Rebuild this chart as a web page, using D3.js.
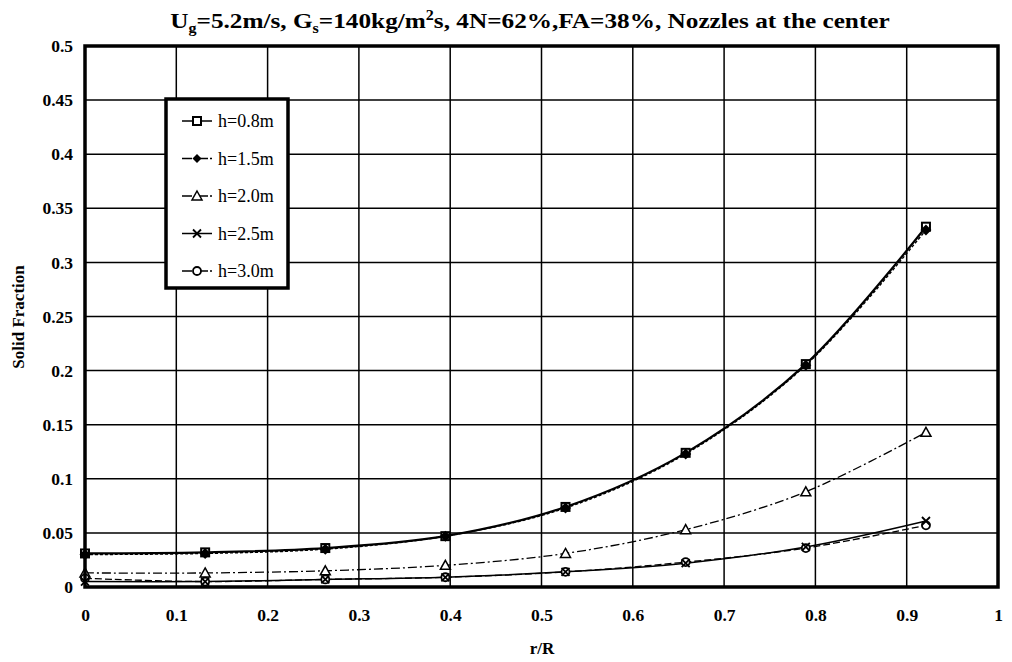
<!DOCTYPE html>
<html>
<head>
<meta charset="utf-8">
<script src="https://cdn.jsdelivr.net/npm/d3@7"></script>
<style>
  html, body { margin: 0; padding: 0; background: #fff; }
  svg { display: block; }
  text { font-family: "Liberation Serif", "DejaVu Serif", serif; fill: #000; }
</style>
</head>
<body>
<svg id="chart" width="1012" height="662"></svg>
<script>
// Radial positions r/R of the measurement points
const rR = [0, 0.1316, 0.2632, 0.3947, 0.5263, 0.6579, 0.7895, 0.9211];

// Solid fraction at each height above the distributor
const h08 = [0.031, 0.032, 0.036, 0.047, 0.074, 0.124, 0.206, 0.333];
const h15 = [0.030, 0.031, 0.035, 0.047, 0.073, 0.123, 0.205, 0.330];
const h20 = [0.013, 0.013, 0.015, 0.020, 0.031, 0.053, 0.088, 0.143];
const h25 = [0.005, 0.005, 0.007, 0.009, 0.014, 0.022, 0.037, 0.061];
const h30 = [0.008, 0.005, 0.007, 0.009, 0.014, 0.023, 0.036, 0.057];

const seriesNames = ["h=0.8m", "h=1.5m", "h=2.0m", "h=2.5m", "h=3.0m"];
const seriesValues = [h08, h15, h20, h25, h30];

const xTicks = [0, 0.1, 0.2, 0.3, 0.4, 0.5, 0.6, 0.7, 0.8, 0.9, 1];
const yTicks = [0, 0.05, 0.1, 0.15, 0.2, 0.25, 0.3, 0.35, 0.4, 0.45, 0.5];

// Per-series drawing style
const styles = [
  { marker: "square",   dash: null,         width: 2.2 },
  { marker: "diamond",  dash: "3,2",        width: 1.4 },
  { marker: "triangle", dash: "9,3,2,3",    width: 1.3 },
  { marker: "cross",    dash: null,         width: 1.5 },
  { marker: "circle",   dash: "7,3",        width: 1.3 }
];

const svg = d3.select("#chart");
const margin = { left: 85, right: 14, top: 46, bottom: 75 };
const W = 1012, H = 662;

const x = d3.scaleLinear().domain([0, 1]).range([margin.left, W - margin.right]);
const y = d3.scaleLinear().domain([0, 0.5]).range([H - margin.bottom, margin.top]);

// Grid
const grid = svg.append("g");
grid.selectAll("line.v").data(xTicks.slice(1, -1)).join("line")
  .attr("x1", d => x(d)).attr("x2", d => x(d))
  .attr("y1", y(0)).attr("y2", y(0.5))
  .attr("stroke", "#000").attr("stroke-width", 1.5);
grid.selectAll("line.h").data(yTicks.slice(1, -1)).join("line")
  .attr("y1", d => y(d)).attr("y2", d => y(d))
  .attr("x1", x(0)).attr("x2", x(1))
  .attr("stroke", "#000").attr("stroke-width", 1.5);

// Axes (labels only; frame drawn separately)
const xAxis = svg.append("g")
  .attr("transform", `translate(0,${y(0)})`)
  .call(d3.axisBottom(x).tickValues(xTicks).tickFormat(d3.format("~g")).tickSize(0).tickPadding(22));
const yAxis = svg.append("g")
  .attr("transform", `translate(${x(0)},0)`)
  .call(d3.axisLeft(y).tickValues(yTicks).tickFormat(d3.format("~g")).tickSize(0).tickPadding(12));
[xAxis, yAxis].forEach(a => {
  a.select(".domain").remove();
  a.selectAll("text")
    .style("font-family", "'Liberation Serif', serif")
    .style("font-size", "17.5px")
    .style("font-weight", "bold")
    .attr("fill", "#000");
});

// Curves
const line = d3.line()
  .x((d, i) => x(rR[i]))
  .y(d => y(d))
  .curve(d3.curveCatmullRom.alpha(0.5));

const order = [2, 3, 4, 1, 0];
order.forEach(k => {
  const p = svg.append("path")
    .datum(seriesValues[k])
    .attr("d", line)
    .attr("fill", "none")
    .attr("stroke", "#000")
    .attr("stroke-width", styles[k].width);
  if (styles[k].dash) p.attr("stroke-dasharray", styles[k].dash);
});

// Marker drawing
function drawMarker(g, type, cx, cy, big) {
  if (type === "square") {
    g.append("rect").attr("x", cx - 4).attr("y", cy - 4).attr("width", 8).attr("height", 8)
      .attr("fill", "#fff").attr("stroke", "#000").attr("stroke-width", 2);
  } else if (type === "diamond") {
    const r = big ? 5.5 : 4.5;
    g.append("path").attr("d", `M${cx},${cy - r}L${cx + r},${cy}L${cx},${cy + r}L${cx - r},${cy}Z`)
      .attr("fill", "#000");
  } else if (type === "triangle") {
    g.append("path").attr("d", `M${cx},${cy - 5}L${cx + 5},${cy + 4}L${cx - 5},${cy + 4}Z`)
      .attr("fill", "#fff").attr("stroke", "#000").attr("stroke-width", 1.5);
  } else if (type === "cross") {
    g.append("path").attr("d", `M${cx - 4},${cy - 4}L${cx + 4},${cy + 4}M${cx - 4},${cy + 4}L${cx + 4},${cy - 4}`)
      .attr("stroke", "#000").attr("stroke-width", 1.8);
  } else if (type === "circle") {
    g.append("circle").attr("cx", cx).attr("cy", cy).attr("r", 4)
      .attr("fill", "#fff").attr("stroke", "#000").attr("stroke-width", 1.8);
  }
}

const markers = svg.append("g");
[0, 2, 4, 3, 1].forEach(k => {
  seriesValues[k].forEach((v, i) => drawMarker(markers, styles[k].marker, x(rR[i]), y(v), true));
});

// Plot frame
svg.append("rect")
  .attr("x", x(0)).attr("y", y(0.5))
  .attr("width", x(1) - x(0)).attr("height", y(0) - y(0.5))
  .attr("fill", "none").attr("stroke", "#000").attr("stroke-width", 3.5);

// Legend
const lg = svg.append("g");
lg.append("rect").attr("x", 166).attr("y", 99).attr("width", 122).attr("height", 189)
  .attr("fill", "#fff").attr("stroke", "#000").attr("stroke-width", 3.5);
seriesNames.forEach((name, k) => {
  const ly = 121 + k * 37.5;
  const seg = lg.append("line").attr("x1", 182).attr("x2", 212).attr("y1", ly).attr("y2", ly)
    .attr("stroke", "#000").attr("stroke-width", 1.5);
  if (styles[k].dash) seg.attr("stroke-dasharray", "10,2,2,2");
  drawMarker(lg, styles[k].marker, 197, ly, false);
  lg.append("text").attr("x", 218).attr("y", ly + 6)
    .style("font-size", "18px").text(name);
});

// Title with subscripts and superscript, stretched to its full width
const titleCx = 530, titleW = 720;
const title = svg.append("text")
  .attr("x", titleCx).attr("y", 28)
  .attr("text-anchor", "middle")
  .style("font-size", "22px").style("font-weight", "bold");
title.append("tspan").text("U");
title.append("tspan").attr("dy", 5).style("font-size", "14px").text("g");
title.append("tspan").attr("dy", -5).text("=5.2m/s, G");
title.append("tspan").attr("dy", 5).style("font-size", "14px").text("s");
title.append("tspan").attr("dy", -5).text("=140kg/m");
title.append("tspan").attr("dy", -8).style("font-size", "14px").text("2");
title.append("tspan").attr("dy", 8).text("s, 4N=62%,FA=38%, Nozzles at the center");
const tw = title.node().getBBox().width;
title.attr("transform", `translate(${titleCx},0) scale(${titleW / tw},1) translate(${-titleCx},0)`);

// Axis titles
svg.append("text").attr("x", 542).attr("y", 654).attr("text-anchor", "middle")
  .style("font-size", "17px").style("font-weight", "bold").text("r/R");
svg.append("text").attr("transform", "translate(24,317) rotate(-90)").attr("text-anchor", "middle")
  .style("font-size", "17px").style("font-weight", "bold").text("Solid Fraction");
</script>
</body>
</html>
